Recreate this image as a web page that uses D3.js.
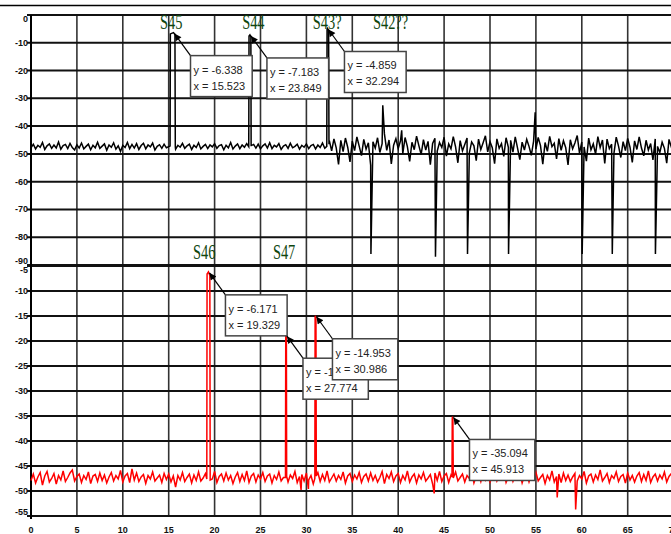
<!DOCTYPE html>
<html lang="en">
<head>
  <meta charset="UTF-8">
  <title>Spectrum traces</title>
  <script src="https://d3js.org/d3.v7.min.js"></script>
  <style>
    body { margin: 0; background: #fff; }
    svg { display: block; }
    .tick-label { font-family: "Liberation Sans", Arial, sans-serif; font-weight: bold; font-size: 9px; fill: #111; }
    .note { font-family: "Liberation Sans", Arial, sans-serif; font-size: 11px; fill: #222; }
    .tag { font-family: "Liberation Serif", "Times New Roman", serif; font-size: 20px; fill: #0f460f; }
  </style>
</head>
<body>
<svg width="671" height="534"></svg>
<script>
// ---- data ----
const xTicks = [0, 5, 10, 15, 20, 25, 30, 35, 40, 45, 50, 55, 60, 65, 70];
const topTicks = [0, -10, -20, -30, -40, -50, -60, -70, -80, -90];
const botTicks = [-5, -10, -15, -20, -25, -30, -35, -40, -45, -50, -55];

const noiseStep = 0.25; // noise samples are every 0.25 on x, starting at 0

const topNoise = [
  -47.8,-46.5,-48.2,-46.9,-47.6,-45.9,-48.4,-47.1,-46.4,-48.0,-46.8,-47.9,-45.7,-48.3,-47.0,-46.6,-48.1,-46.2,-47.7,-48.6,
  -46.7,-47.9,-46.1,-48.2,-47.3,-46.5,-48.5,-46.9,-47.8,-45.8,-48.0,-47.2,-46.4,-48.7,-46.8,-47.6,-46.0,-48.3,-47.1,-49.1,
  -46.9,-47.7,-45.9,-48.1,-46.6,-47.9,-46.3,-48.4,-47.0,-46.2,-48.2,-46.8,-47.5,-46.1,-48.6,-47.3,-46.7,-48.0,-46.5,-47.8,
  -47.4,-46.8,-47.2,-48.3,-46.9,-47.6,-46.2,-48.0,-47.1,-46.5,-48.4,-46.9,-47.7,-46.0,-48.2,-47.3,-46.6,-48.1,-46.8,-47.5,
  -46.3,-48.0,-47.0,-46.7,-48.5,-46.9,-47.8,-45.9,-48.2,-47.2,-46.4,-48.1,-46.8,-47.6,-46.3,-48.3,-47.0,-46.6,-47.9,-46.5,
  -48.2,-47.1,-46.4,-47.9,-46.0,-48.1,-46.9,-47.5,-46.3,-48.4,-47.2,-46.7,-48.0,-46.2,-47.8,-47.3,-46.5,-48.3,-46.9,-47.6,
  -46.4,-48.1,-47.0,-46.6,-48.2,-46.8,-47.7,-46.1,-48.0,-47.3,-45.2,-48.9,-44.6,-47.8,-53.8,-45.1,-49.2,-44.3,-47.6,-52.9,
  -45.4,-48.8,-43.9,-47.2,-50.6,-44.8,-48.3,-46.0,-54.1,-45.6,-47.9,-44.2,-49.5,-46.3,-42.8,-48.7,-45.0,-53.6,-46.9,-44.5,
  -48.1,-45.3,-49.9,-44.1,-47.4,-52.7,-45.8,-48.5,-43.6,-47.0,-50.2,-44.9,-48.6,-45.5,-53.9,-46.2,-44.4,-49.0,-45.9,-47.7,
  -44.0,-50.8,-46.4,-48.2,-43.8,-47.5,-53.2,-45.2,-48.9,-46.6,-44.3,-49.6,-45.7,-47.1,-52.4,-44.7,-48.4,-46.0,-43.5,-49.3,
  -45.6,-47.8,-53.5,-44.6,-48.0,-46.3,-50.9,-44.2,-47.6,-45.1,-49.4,-43.9,-47.9,-52.1,-45.8,-48.6,-44.8,-47.3,-50.5,-45.4,
  -48.3,-44.1,-47.0,-53.7,-45.9,-49.1,-43.7,-47.4,-46.2,-51.8,-44.5,-48.7,-45.3,-47.8,-54.0,-44.9,-48.2,-46.1,-43.4,-49.7,
  -45.7,-47.5,-52.6,-44.3,-48.5,-46.4,-50.1,-43.8,-47.7,-45.0,-53.4,-44.7,-48.1,-46.5,-49.8,-44.0,-47.2,-51.3,-45.6,-48.8,
  -44.4,-47.6,-53.1,-45.3,-48.4,-43.9,-47.9,-50.7,-45.1,-48.6,-46.3,-52.2,-44.6,-47.3,-49.5,-45.8,-48.0,-53.3,-44.8,-47.5,-46.2
];

const botNoise = [
  -47.9,-46.6,-48.4,-47.2,-46.3,-48.8,-47.0,-46.1,-48.2,-47.5,-46.5,-48.6,-46.9,-47.8,-46.0,-48.1,-47.3,-46.4,-45.8,-48.0,
  -47.1,-46.6,-48.3,-46.9,-47.7,-46.2,-48.5,-47.0,-46.7,-48.1,-46.4,-47.9,-46.8,-48.4,-47.2,-46.3,-48.0,-46.9,-47.6,-45.9,
  -48.2,-47.0,-46.5,-48.3,-45.6,-47.8,-46.4,-48.1,-47.2,-46.7,-48.5,-46.9,-47.6,-46.2,-48.0,-47.4,-46.8,-48.3,-46.5,-47.7,
  -46.6,-48.2,-47.0,-49.2,-46.9,-47.8,-46.3,-48.1,-47.3,-46.6,-48.4,-46.8,-47.9,-46.2,-48.0,-47.4,-46.5,-48.2,-46.9,-47.6,
  -46.1,-48.3,-47.1,-46.6,-48.0,-46.4,-47.8,-46.9,-48.5,-47.2,-46.3,-48.1,-46.7,-47.9,-46.0,-48.3,-47.0,-46.5,-48.2,-46.8,
  -47.6,-46.3,-48.1,-47.0,-46.6,-48.4,-46.9,-47.7,-46.2,-48.0,-47.3,-46.5,-48.2,-46.8,-47.5,-46.1,-48.3,-47.1,-46.7,-48.0,
  -46.4,-47.8,-46.9,-48.6,-47.2,-46.3,-48.1,-46.7,-47.9,-46.0,-48.2,-47.4,-46.6,-48.0,-46.9,-47.7,-46.2,-48.4,-47.0,-46.5,
  -48.1,-46.8,-47.6,-46.3,-48.3,-47.1,-46.6,-48.0,-46.4,-47.9,-46.9,-48.2,-47.3,-46.1,-48.5,-46.7,-47.5,-46.2,-48.1,-47.0,
  -46.5,-48.3,-46.9,-47.8,-46.0,-48.2,-47.2,-46.6,-48.4,-46.8,-47.6,-46.3,-48.0,-47.4,-46.7,-48.6,-46.4,-47.9,-46.1,-48.1,
  -47.0,-46.5,-48.3,-46.8,-47.7,-46.2,-48.0,-47.3,-46.6,-48.2,-46.9,-47.5,-46.0,-48.4,-47.1,-46.7,-48.1,-46.3,-47.8,-46.9,
  -48.2,-47.0,-46.4,-48.0,-46.8,-47.6,-46.1,-48.3,-47.2,-46.5,-48.1,-46.9,-47.7,-46.3,-48.4,-47.0,-46.6,-48.2,-46.8,-47.5,
  -46.2,-48.0,-47.3,-46.7,-48.5,-46.9,-47.8,-46.0,-48.2,-47.1,-46.6,-48.3,-46.4,-47.9,-46.8,-48.1,-47.2,-46.5,-48.0,-46.9,
  -47.6,-46.1,-48.4,-47.0,-46.6,-48.2,-46.8,-47.7,-45.8,-48.0,-47.3,-46.5,-48.3,-46.9,-47.5,-46.2,-48.1,-47.1,-46.7,-48.4,
  -46.4,-47.8,-46.9,-48.2,-47.0,-46.3,-48.1,-46.7,-47.9,-46.0,-48.3,-47.2,-46.6,-48.0,-46.8,-47.6,-46.2,-48.2,-47.1,-46.5,-48.0
];

// narrow peaks, each as its own list of [x, y] points
const topPeaks = [
  [[15.15, -47.2], [15.18, -6.8], [15.523, -6.338], [15.68, -7.0], [15.72, -47.5]],
  [[23.72, -47.4], [23.75, -7.6], [23.849, -7.183], [23.95, -7.8], [23.98, -47.0]],
  [[32.22, -47.3], [32.25, -5.3], [32.294, -4.859], [32.42, -5.5], [32.46, -46.5]]
];
const botPeaks = [
  [[19.15, -47.6], [19.18, -6.6], [19.329, -6.171], [19.48, -6.9], [19.52, -47.8]],
  [[27.72, -47.3], [27.75, -19.2], [27.774, -18.842], [27.82, -19.5], [27.85, -47.1]],
  [[30.92, -47.5], [30.95, -15.3], [30.986, -14.953], [31.04, -15.6], [31.08, -47.0]],
  [[45.86, -47.2], [45.89, -35.5], [45.913, -35.094], [45.96, -35.8], [46.0, -47.4]]
];

// single-sample spikes
const topSpikes = [
  [37.03, -86], [38.32, -32.5], [40.38, -41.5], [44.06, -87], [47.55, -86],
  [52.02, -86], [54.92, -35], [60.04, -86], [63.32, -86], [68.02, -86]
];
const botSpikes = [[29.42, -49.8], [30.22, -49.6], [43.92, -50.5], [57.32, -51.3], [59.33, -53.7]];

// marker read-outs
const topMarks = [[15.523, -6.338], [23.849, -7.183], [32.294, -4.859]];
const botMarks = [[19.329, -6.171], [27.774, -18.842], [30.986, -14.953], [45.913, -35.094]];

// green peak names
const topTags = [["S45", 14.05], ["S44", 23.0], ["S43?", 30.7], ["S42??", 37.25]];
const botTags = [["S46", 17.65], ["S47", 26.35]];

// ---- layout ----
const svg = d3.select("svg");
const W = 671;
const x = d3.scaleLinear().domain([0, 70]).range([31, 673.6]);
const yTop = d3.scaleLinear().domain([0, -90]).range([15, 265]);
const yBot = d3.scaleLinear().domain([-5, -55]).range([266, 516]);

// figure border line at top
svg.append("line").attr("x1", 0).attr("x2", W).attr("y1", 5.5).attr("y2", 5.5)
  .attr("stroke", "#000").attr("stroke-width", 1.5);

// vertical grid
svg.append("g").selectAll("line").data(xTicks).join("line")
  .attr("x1", d => x(d)).attr("x2", d => x(d))
  .attr("y1", yTop(0)).attr("y2", yBot(-55))
  .attr("stroke", "#333").attr("stroke-width", 1.6);

// horizontal grid for both panels
function hGrid(ticks, y) {
  svg.append("g").selectAll("line").data(ticks).join("line")
    .attr("x1", 27).attr("x2", W)
    .attr("y1", d => y(d)).attr("y2", d => y(d))
    .attr("stroke", "#111").attr("stroke-width", 2);
}
hGrid(topTicks, yTop);
hGrid(botTicks, yBot);

// left axis line
svg.append("line").attr("x1", x(0)).attr("x2", x(0)).attr("y1", yTop(0)).attr("y2", yBot(-55) + 3)
  .attr("stroke", "#000").attr("stroke-width", 2);

// y tick labels; end labels pushed inward so the two panels don't collide
function yLabels(ticks, y) {
  svg.append("g").selectAll("text").data(ticks).join("text")
    .attr("class", "tick-label")
    .attr("x", 28)
    .attr("y", (d, i) => y(d) + (i === 0 ? 7 : i === ticks.length - 1 ? -1 : 3))
    .attr("text-anchor", "end")
    .text(d => d);
}
yLabels(topTicks, yTop);
yLabels(botTicks, yBot);

// x tick labels
svg.append("g").selectAll("text").data(xTicks).join("text")
  .attr("class", "tick-label")
  .attr("x", d => x(d)).attr("y", 533)
  .attr("text-anchor", "middle")
  .text(d => d);

// traces
function buildSeries(noise, peaks, spikes) {
  let pts = noise.map((v, i) => [i * noiseStep, v]);
  pts = pts.filter(p => !peaks.some(g => p[0] >= g[0][0] && p[0] <= g[g.length - 1][0]));
  peaks.forEach(g => pts.push(...g));
  spikes.forEach(s => pts.push(s));
  return pts.sort((a, b) => a[0] - b[0]);
}

const lineTop = d3.line().x(d => x(d[0])).y(d => yTop(d[1]));
const lineBot = d3.line().x(d => x(d[0])).y(d => yBot(d[1]));

svg.append("path").datum(buildSeries(topNoise, topPeaks, topSpikes))
  .attr("d", lineTop).attr("fill", "none").attr("stroke", "#000").attr("stroke-width", 1.5);
svg.append("path").datum(buildSeries(botNoise, botPeaks, botSpikes))
  .attr("d", lineBot).attr("fill", "none").attr("stroke", "#ff0000").attr("stroke-width", 1.5);

// arrow marker
svg.append("defs").append("marker")
  .attr("id", "arr").attr("viewBox", "0 0 10 10").attr("refX", 10).attr("refY", 5)
  .attr("markerWidth", 9).attr("markerHeight", 7).attr("markerUnits", "userSpaceOnUse")
  .attr("orient", "auto")
  .append("path").attr("d", "M0,0L10,5L0,10Z").attr("fill", "#000");

// marker read-out boxes
function readouts(marks, y) {
  marks.forEach(([mx, my]) => {
    const px = x(mx), py = y(my);
    const bx = px + 17, by = py + 23;
    const g = svg.append("g");
    g.append("line").attr("x1", bx).attr("y1", by).attr("x2", px + 1).attr("y2", py + 1)
      .attr("stroke", "#000").attr("stroke-width", 1.2).attr("marker-end", "url(#arr)");
    const box = g.append("rect").attr("x", bx).attr("y", by).attr("height", 41)
      .attr("fill", "#fff").attr("stroke", "#444").attr("stroke-width", 1.5);
    const t1 = g.append("text").attr("class", "note").attr("x", bx + 3).attr("y", by + 18)
      .text(`y = ${my.toFixed(3)}`);
    const t2 = g.append("text").attr("class", "note").attr("x", bx + 3).attr("y", by + 34)
      .text(`x = ${mx.toFixed(3)}`);
    const w = Math.max(t1.node().getComputedTextLength(), t2.node().getComputedTextLength());
    box.attr("width", w + 10);
  });
}
readouts(topMarks, yTop);
readouts(botMarks, yBot);

// peak names
function tags(list, baseY) {
  list.forEach(([name, tx]) => {
    svg.append("text").attr("class", "tag")
      .attr("transform", `translate(${x(tx)},${baseY}) scale(0.72,1)`)
      .text(name);
  });
}
tags(topTags, 29);
tags(botTags, 259);
</script>
</body>
</html>
